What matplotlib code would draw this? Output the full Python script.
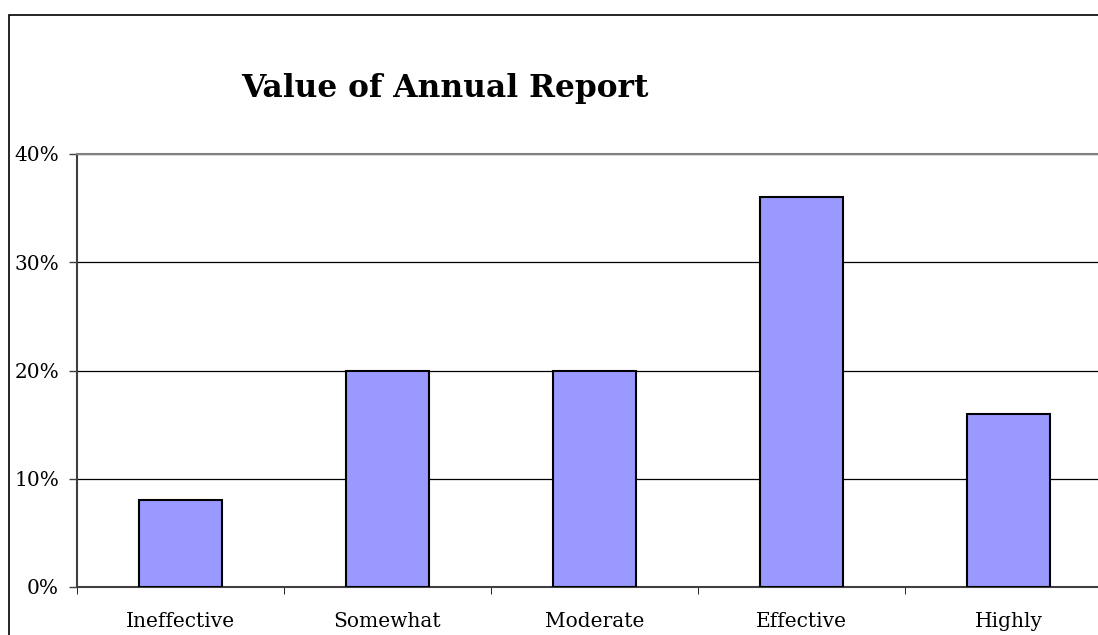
import matplotlib
matplotlib.use('Agg')
import matplotlib.pyplot as plt
from matplotlib.patches import Rectangle
from matplotlib.ticker import FixedLocator, PercentFormatter

categories = ['Ineffective', 'Somewhat', 'Moderate', 'Effective', 'Highly']
values = [8, 20, 20, 36, 16]
yticks = [0, 10, 20, 30, 40]

W, H = 1098, 635
fig = plt.figure(figsize=(W / 100, H / 100), dpi=100)

# outer chart border (cut off at right and bottom like the original)
fig.patches.append(Rectangle((9 / W, -0.1), 1.2, (H - 15) / H + 0.1,
                             transform=fig.transFigure, fill=False,
                             edgecolor='black', linewidth=1.2))

ax = fig.add_axes([77 / W, (H - 587) / H, (1112 - 77) / W, (587 - 154) / H])

x = list(range(len(categories)))
ax.bar(x, values, width=0.4, color='#9999FF', edgecolor='black', linewidth=1.5, zorder=3)

ax.set_xlim(-0.5, 4.5)
ax.set_ylim(0, 40)
ax.set_yticks(yticks)
ax.yaxis.set_major_formatter(PercentFormatter(decimals=0))
ax.yaxis.grid(True, color='black', linewidth=0.9, zorder=0)

ax.set_xticks(x)
ax.set_xticklabels(categories)
ax.xaxis.set_minor_locator(FixedLocator([i + 0.5 for i in range(-1, len(categories))]))
ax.tick_params(axis='x', which='major', length=0, pad=18)
ax.tick_params(axis='x', which='minor', length=5, direction='out', color='black')
ax.tick_params(axis='y', length=6, width=1, color='#404040', pad=7)

for lbl in ax.get_xticklabels() + ax.get_yticklabels():
    lbl.set_family('DejaVu Serif')
    lbl.set_fontsize(14.5)

ax.spines['right'].set_visible(False)
ax.spines['top'].set_color('#808080')
ax.spines['top'].set_linewidth(1.5)
for s in ['left', 'bottom']:
    ax.spines[s].set_color('#404040')
    ax.spines[s].set_linewidth(1.5)

fig.text(445 / W, 1 - 88 / H, 'Value of Annual Report', ha='center', va='center',
         family='DejaVu Serif', fontweight='heavy', fontsize=22.5)

fig.savefig('out.png', dpi=100)
